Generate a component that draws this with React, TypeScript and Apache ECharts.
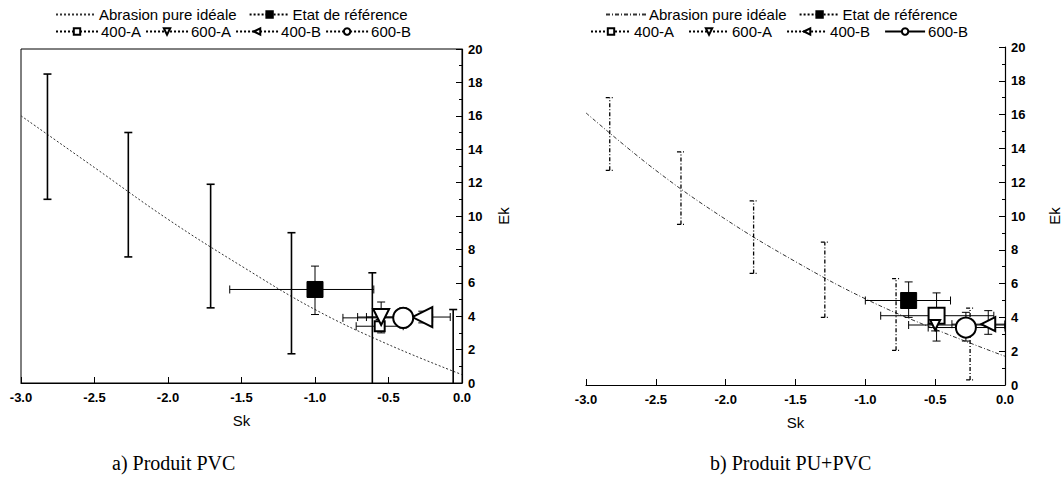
import React, { useEffect, useRef } from "react";
import * as echarts from "echarts";

// ---------- Data: a) Produit PVC ----------
const A_IDEAL_SK = [-3.0, -2.5, -2.0, -1.5, -1.0, -0.5, 0.0];
const A_IDEAL_EK = [16.0, 12.9, 9.8, 7.0, 4.4, 2.3, 0.5];
const A_BAR_SK = [-2.82, -2.27, -1.71, -1.16, -0.61, -0.06];
const A_BAR_EK = [14.8, 11.4, 8.2, 5.3, 2.75, 0.66];
const A_BAR_LO = [11.0, 7.55, 4.5, 1.75, -1.1, -3.1];
const A_BAR_HI = [18.5, 15.0, 11.9, 9.0, 6.6, 4.4];
// [sk, ek, skLow, skHigh, ekLow, ekHigh]
const A_REF = [-1.0, 5.6, -1.58, -0.6, 4.1, 7.0];
const A_400A = [-0.56, 3.4, -0.72, -0.4, 3.1, 3.8];
const A_600A = [-0.55, 3.95, -0.65, -0.45, 3.0, 4.85];
const A_400B = [-0.27, 3.95, -0.71, -0.08, 3.6, 4.3];
const A_600B = [-0.4, 3.9, -0.81, -0.2, 3.3, 4.5];

// ---------- Data: b) Produit PU+PVC ----------
const B_IDEAL_SK = [-3.0, -2.5, -2.0, -1.5, -1.0, -0.5, 0.0];
const B_IDEAL_EK = [16.1, 12.7, 9.8, 7.3, 5.1, 3.3, 1.7];
const B_BAR_SK = [-2.83, -2.32, -1.8, -1.29, -0.78, -0.25];
const B_BAR_EK = [14.9, 11.65, 8.8, 6.38, 4.3, 2.5];
const B_BAR_LO = [12.7, 9.5, 6.6, 4.0, 2.05, 0.3];
const B_BAR_HI = [17.0, 13.8, 10.9, 8.45, 6.3, 4.55];
const B_REF = [-0.69, 5.0, -1.0, -0.39, 4.0, 6.1];
const B_400A = [-0.49, 4.1, -0.89, -0.08, 2.6, 5.45];
const B_600A = [-0.5, 3.55, -0.69, 0.0, 3.2, 3.9];
const B_400B = [-0.12, 3.6, -0.38, 0.0, 3.0, 4.4];
const B_600B = [-0.28, 3.4, -0.55, 0.0, 2.6, 4.3];

const SANS = "Liberation Sans, Arial, sans-serif";
const SERIF = "Liberation Serif, Times New Roman, serif";

function errRender(color: string, width: number, dash: number[] | null) {
  return (params: any, api: any) => {
    const x = api.value(0), y = api.value(1);
    const xl = api.value(2), xh = api.value(3), yl = api.value(4), yh = api.value(5);
    const cs = params.coordSys;
    const bottom = cs.y + cs.height;
    const cap = 4;
    const style: any = { stroke: color, lineWidth: width, fill: null };
    if (dash) style.lineDash = dash;
    const ch: any[] = [];
    if (yl !== yh) {
      const p1 = api.coord([x, yl]);
      const p2 = api.coord([x, yh]);
      let yb = p1[1];
      let capLow = true;
      if (yb > bottom) { yb = bottom; capLow = false; }
      ch.push({ type: "line", shape: { x1: p1[0], y1: yb, x2: p2[0], y2: p2[1] }, style });
      ch.push({ type: "line", shape: { x1: p2[0] - cap, y1: p2[1], x2: p2[0] + cap, y2: p2[1] }, style });
      if (capLow) ch.push({ type: "line", shape: { x1: p1[0] - cap, y1: yb, x2: p1[0] + cap, y2: yb }, style });
    }
    if (xl !== xh) {
      const q1 = api.coord([xl, y]);
      const q2 = api.coord([xh, y]);
      ch.push({ type: "line", shape: { x1: q1[0], y1: q1[1], x2: q2[0], y2: q2[1] }, style });
      ch.push({ type: "line", shape: { x1: q1[0], y1: q1[1] - cap, x2: q1[0], y2: q1[1] + cap }, style });
      ch.push({ type: "line", shape: { x1: q2[0], y1: q2[1] - cap, x2: q2[0], y2: q2[1] + cap }, style });
    }
    return { type: "group", children: ch };
  };
}

function xAxisCfg(gi: number) {
  return {
    type: "value", gridIndex: gi, min: -3, max: 0, interval: 0.5,
    name: "Sk", nameLocation: "middle", nameGap: 30,
    nameTextStyle: { fontFamily: SANS, fontSize: 15, color: "#000" },
    axisLine: { show: true, onZero: false, lineStyle: { color: "#000", width: 1.2 } },
    axisTick: { show: true, inside: true, length: 6, lineStyle: { color: "#000" } },
    splitLine: { show: false },
    axisLabel: {
      fontFamily: SANS, fontSize: 13, fontWeight: "bold", color: "#000", margin: 8,
      formatter: (v: number) => v.toFixed(1),
    },
  };
}
function yAxisCfg(gi: number, gap: number) {
  return {
    type: "value", gridIndex: gi, position: "right", min: 0, max: 20, interval: 2,
    name: "Ek", nameLocation: "middle", nameGap: gap, nameRotate: 90,
    nameTextStyle: { fontFamily: SANS, fontSize: 15, color: "#000" },
    axisLine: { show: true, lineStyle: { color: "#000", width: 1.2 } },
    axisTick: { show: true, inside: true, length: 6, lineStyle: { color: "#000" } },
    minorTick: { show: true, splitNumber: 2, length: 3, lineStyle: { color: "#000" } },
    splitLine: { show: false },
    axisLabel: { fontFamily: SANS, fontSize: 13, fontWeight: "bold", color: "#000", margin: 6 },
  };
}

function buildSeries(prefix: string, gi: number, d: any) {
  const lineDash = [2, 2];
  const mk = (name: string, pt: number[], symbol: string, size: number, rot: number, solid = false) => ({
    name: prefix + name, type: "line", xAxisIndex: gi, yAxisIndex: gi,
    data: [[pt[0], pt[1]]], symbol, symbolSize: size, symbolRotate: rot,
    itemStyle: { color: "#000", borderColor: "#000", borderWidth: 1 },
    lineStyle: { color: "#000", width: 1, type: solid ? "solid" : lineDash },
    z: 5,
  });
  const errData = [d.ref, d.a400, d.a600, d.b400, d.b600];
  return [
    {
      name: prefix + "Abrasion pure idéale", type: "line", xAxisIndex: gi, yAxisIndex: gi,
      data: d.idealSk.map((x: number, i: number) => [x, d.idealEk[i]]),
      smooth: 0.4, symbol: "none",
      lineStyle: { color: "#333", width: 1, type: gi === 0 ? [2, 2] : [4, 2, 1, 2] },
      itemStyle: { color: "#333" }, z: 2,
    },
    {
      type: "custom", xAxisIndex: gi, yAxisIndex: gi,
      renderItem: errRender("#000", gi === 0 ? 1.6 : 1.3, gi === 0 ? null : [4, 2, 1, 2]),
      encode: { x: 0, y: 1 },
      data: d.barSk.map((x: number, i: number) => [x, d.barEk[i], x, x, d.barLo[i], d.barHi[i]]),
      z: 3,
    },
    {
      type: "custom", xAxisIndex: gi, yAxisIndex: gi,
      renderItem: errRender("#000", 1, null),
      encode: { x: 0, y: 1 },
      data: errData, z: 4,
    },
    mk("Etat de référence", d.ref, "rect", d.refSize, 0),
    mk("400-A", d.a400, "emptyRect", d.s400a, 0),
    mk("600-A", d.a600, "emptyTriangle", d.s600a, 180),
    mk("400-B", d.b400, "emptyTriangle", d.s400b, 90),
    mk("600-B", d.b600, "emptyCircle", d.s600b, 0, gi === 1),
  ];
}

function legendCfg(prefix: string, left: number, top: number, names: string[], w: number, gap: number) {
  return {
    left, top, orient: "horizontal", itemWidth: w, itemHeight: 8, itemGap: gap,
    selectedMode: false,
    data: names.map((n) =>
      n === "Abrasion pure idéale"
        ? { name: prefix + n, itemStyle: { color: "transparent", borderColor: "transparent", borderWidth: 0 } }
        : { name: prefix + n }
    ),
    formatter: (n: string) => n.replace(/^b:/, ""),
    textStyle: { fontFamily: SANS, fontSize: 15, color: "#000", padding: [0, 0, 0, -2] },
  };
}

export default function App() {
  const ref = useRef<HTMLDivElement>(null);
  useEffect(() => {
    if (!ref.current) return;
    const chart = echarts.init(ref.current, undefined, { renderer: "svg" });
    const dA = {
      idealSk: A_IDEAL_SK, idealEk: A_IDEAL_EK, barSk: A_BAR_SK, barEk: A_BAR_EK, barLo: A_BAR_LO, barHi: A_BAR_HI,
      ref: A_REF, a400: A_400A, a600: A_600A, b400: A_400B, b600: A_600B,
      refSize: 16, s400a: 10, s600a: 16, s400b: 20, s600b: 20,
    };
    const dB = {
      idealSk: B_IDEAL_SK, idealEk: B_IDEAL_EK, barSk: B_BAR_SK, barEk: B_BAR_EK, barLo: B_BAR_LO, barHi: B_BAR_HI,
      ref: B_REF, a400: B_400A, a600: B_600A, b400: B_400B, b600: B_600B,
      refSize: 16, s400a: 16, s600a: 10, s400b: 14, s600b: 20,
    };
    const row1 = ["Abrasion pure idéale", "Etat de référence"];
    const row2 = ["400-A", "600-A", "400-B", "600-B"];
    chart.setOption({
      animation: false,
      backgroundColor: "#fff",
      grid: [
        { left: 21, right: 601, top: 49, height: 334, show: true, borderColor: "#000", borderWidth: 1, backgroundColor: "transparent" },
        { left: 586, right: 55, top: 47, height: 338 },
      ],
      xAxis: [xAxisCfg(0), xAxisCfg(1)],
      yAxis: [yAxisCfg(0, 34), yAxisCfg(1, 42)],
      legend: [
        legendCfg("", 50, 2, row1, 40, 12),
        legendCfg("", 50, 19, row2, 42, 4),
        legendCfg("b:", 600, 2, row1, 40, 12),
        legendCfg("b:", 585, 19, row2, 40, 14),
      ],
      series: [...buildSeries("", 0, dA), ...buildSeries("b:", 1, dB)],
      graphic: [
        { type: "text", left: 112, top: 453, style: { text: "a) Produit PVC", font: "20px " + SERIF, fill: "#000" } },
        { type: "text", left: 710, top: 453, style: { text: "b) Produit PU+PVC", font: "20px " + SERIF, fill: "#000" } },
      ],
    });
    return () => chart.dispose();
  }, []);
  return <div ref={ref} style={{ position: "fixed", left: 0, top: 0, width: 1063, height: 483 }} />;
}
